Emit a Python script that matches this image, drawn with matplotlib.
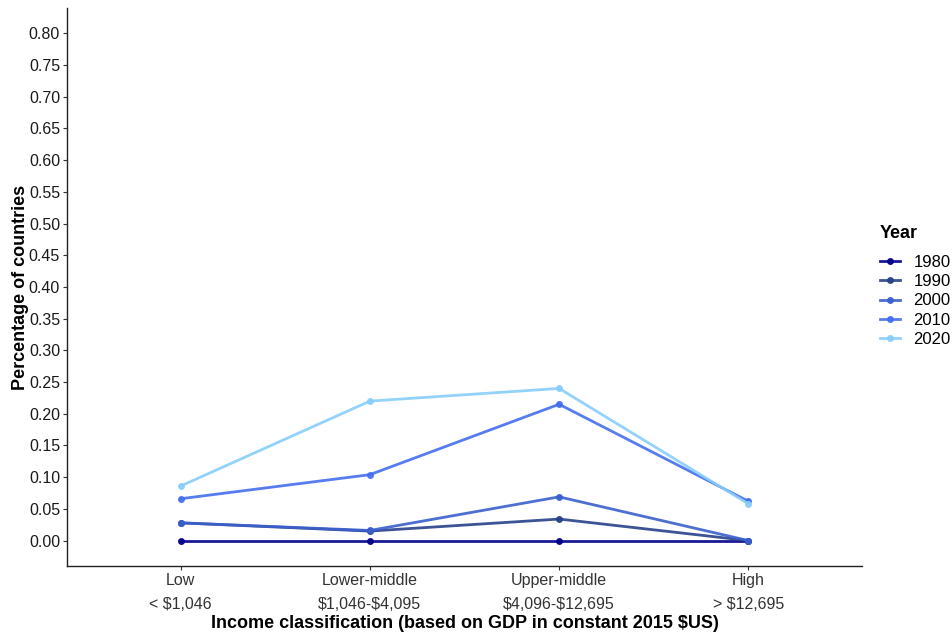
import matplotlib
matplotlib.use("Agg")
import matplotlib.pyplot as plt
import numpy as np

categories = ["Low", "Lower-middle", "Upper-middle", "High"]
cat_ranges = ["< \\$1,046", "\\$1,046-\\$4,095", "\\$4,096-\\$12,695", "> \\$12,695"]
years = ["1980", "1990", "2000", "2010", "2020"]
v1980 = [0.0, 0.0, 0.0, 0.0]
v1990 = [0.028, 0.015, 0.034, 0.0]
v2000 = [0.028, 0.016, 0.069, 0.0]
v2010 = [0.066, 0.104, 0.215, 0.062]
v2020 = [0.086, 0.220, 0.240, 0.058]
series = [v1980, v1990, v2000, v2010, v2020]
colors = ["#00008B", "#27408B", "#3A5FCD", "#436EEE", "#87CEFA"]
yticks = [round(0.05 * i, 2) for i in range(17)]

plt.rcParams['font.family'] = ['Liberation Sans', 'DejaVu Sans']
fig = plt.figure(figsize=(9.53, 6.38), dpi=100)
ax = fig.add_axes([0.0703, 0.1129, 0.8342, 0.8746])

x = np.arange(len(categories))
for yr, vals, c in zip(years, series, colors):
    ax.plot(x, vals, color=c, lw=2, marker='o', ms=4, label=yr, alpha=0.9)

ax.set_xlim(-0.6, 3.6)
ax.set_ylim(-0.04, 0.84)
ax.set_yticks(yticks)
ax.set_yticklabels([f"{t:.2f}" for t in yticks], fontsize=11.5, color='#1a1a1a')
ax.set_xticks(x)
ax.set_xticklabels([f"{c}\n{r}" for c, r in zip(categories, cat_ranges)],
                   fontsize=11.5, color='#333333', linespacing=1.75)
ax.tick_params(axis='both', length=3, color='#333333', direction='out')
ax.tick_params(axis='x', pad=2)
ax.tick_params(axis='y', pad=2)
for s in ['top', 'right']:
    ax.spines[s].set_visible(False)
for s in ['left', 'bottom']:
    ax.spines[s].set_color('#222222')
    ax.spines[s].set_linewidth(1.0)

ax.set_xlabel("Income classification (based on GDP in constant 2015 \\$US)",
              fontsize=13, fontweight='bold', labelpad=2)
ax.set_ylabel("Percentage of countries", fontsize=13, fontweight='bold', labelpad=0)

leg = fig.legend(*ax.get_legend_handles_labels(), title="Year", loc='center left',
                 bbox_to_anchor=(880 / 953, 1 - 286 / 638),
                 frameon=False, fontsize=12, title_fontsize=13,
                 handlelength=1.2, labelspacing=0.26, handletextpad=0.8,
                 borderpad=0, borderaxespad=0)
leg.get_title().set_fontweight('bold')
leg._legend_box.align = "left"
leg._legend_box.sep = 0.26 * 12 + 6

fig.savefig("out.png", dpi=100)
